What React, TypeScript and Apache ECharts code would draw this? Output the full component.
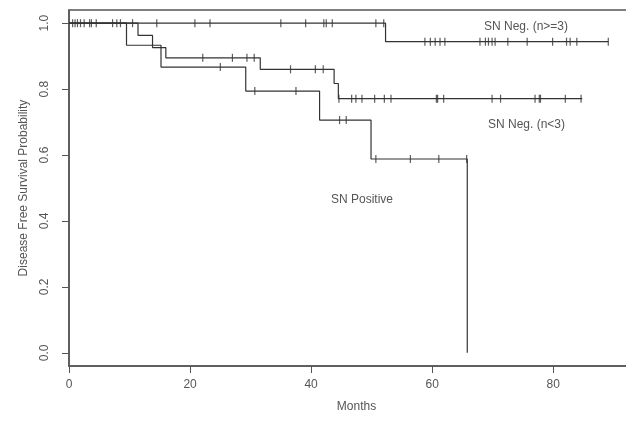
import React, { useEffect, useRef } from "react";
import * as echarts from "echarts";

// Kaplan–Meier step data (months, survival probability)
const negHighTimes = [0, 52.3, 89.1];
const negHighSurv = [1, 0.944, 0.944];
const negHighCensor = [0.6, 1.0, 1.4, 1.9, 2.5, 3.4, 3.7, 4.5, 7.2, 7.9, 8.5, 10.5, 14.5, 20.8, 23.3, 35.0, 39.1, 42.1, 42.5, 43.5, 50.7, 52.0, 58.8, 59.7, 60.5, 61.3, 62.1, 67.9, 68.8, 69.3, 69.9, 70.4, 72.5, 75.7, 79.9, 82.2, 82.8, 83.9, 89.1];

const negLowTimes = [0, 11.4, 13.8, 16.0, 31.6, 43.8, 44.5, 84.8];
const negLowSurv = [1, 0.963, 0.926, 0.895, 0.86, 0.817, 0.771, 0.771];
const negLowCensor = [22.1, 27.0, 29.4, 30.6, 36.6, 40.7, 42.0, 44.6, 46.7, 47.4, 48.4, 50.5, 52.1, 53.2, 60.7, 60.9, 61.9, 69.9, 71.3, 77.0, 77.7, 77.9, 82.0, 84.6];

const posTimes = [0, 9.5, 15.2, 29.2, 41.4, 49.9, 65.8];
const posSurv = [1, 0.933, 0.867, 0.794, 0.706, 0.588, 0];
const posCensor = [25.0, 30.7, 37.5, 44.7, 45.8, 50.7, 56.4, 61.1, 65.7];

const xTicks = [0, 20, 40, 60, 80];
const yTicks = [0, 0.2, 0.4, 0.6, 0.8, 1.0];

const survAt = (times: number[], surv: number[], t: number) => {
  let v = surv[0];
  for (let i = 0; i < times.length; i++) if (times[i] <= t) v = surv[i];
  return v;
};

const lineData = (times: number[], surv: number[]) => times.map((t, i) => [t, surv[i]]);
const censorData = (times: number[], surv: number[], c: number[]) => c.map((t) => [t, survAt(times, surv, t)]);

const INK = "#333";
const AXIS = "#555";
const TEXT = "#555";
const FONT = "Liberation Sans, Arial, sans-serif";

export default function App() {
  const ref = useRef<HTMLDivElement>(null);
  useEffect(() => {
    if (!ref.current) return;
    const chart = echarts.init(ref.current, null, { renderer: "svg" });
    const lineSeries = (name: string, times: number[], surv: number[]) => ({
      name,
      type: "line",
      step: "end",
      showSymbol: false,
      data: lineData(times, surv),
      lineStyle: { color: INK, width: 1.2 },
      z: 3,
    });
    const censorSeries = (name: string, times: number[], surv: number[], c: number[]) => ({
      name: name + " censored",
      type: "scatter",
      symbol: "rect",
      symbolSize: [1.2, 8],
      data: censorData(times, surv, c),
      itemStyle: { color: INK },
      z: 4,
    });
    chart.setOption({
      animation: false,
      textStyle: { fontFamily: FONT },
      grid: {
        left: 69,
        top: 10,
        right: 0,
        bottom: 57,
        show: true,
        borderColor: AXIS,
        borderWidth: 1.5,
        backgroundColor: "transparent",
      },
      xAxis: {
        type: "value",
        min: 0,
        max: 95,
        name: "Months",
        nameLocation: "middle",
        nameGap: 34,
        nameTextStyle: { color: TEXT, fontSize: 12, fontFamily: FONT },
        splitLine: { show: false },
        axisLine: { show: true, onZero: false, lineStyle: { color: AXIS, width: 1.5 } },
        axisTick: { show: true, length: 7, lineStyle: { color: AXIS }, customValues: xTicks },
        axisLabel: { color: TEXT, fontSize: 12, margin: 12, fontFamily: FONT, customValues: xTicks },
      },
      yAxis: {
        type: "value",
        min: -0.04,
        max: 1.04,
        name: "Disease Free Survival Probability",
        nameLocation: "middle",
        nameGap: 40,
        nameTextStyle: { color: TEXT, fontSize: 12, fontFamily: FONT },
        splitLine: { show: false },
        axisLine: { show: true, onZero: false, lineStyle: { color: AXIS, width: 1.5 } },
        axisTick: { show: true, length: 7, lineStyle: { color: AXIS }, customValues: yTicks },
        axisLabel: {
          color: TEXT,
          fontSize: 12,
          margin: 19,
          rotate: 90,
          fontFamily: FONT,
          customValues: yTicks,
          formatter: (v: number) => v.toFixed(1),
        },
      },
      series: [
        lineSeries("SN Neg. (n>=3)", negHighTimes, negHighSurv),
        lineSeries("SN Neg. (n<3)", negLowTimes, negLowSurv),
        lineSeries("SN Positive", posTimes, posSurv),
        censorSeries("SN Neg. (n>=3)", negHighTimes, negHighSurv, negHighCensor),
        censorSeries("SN Neg. (n<3)", negLowTimes, negLowSurv, negLowCensor),
        censorSeries("SN Positive", posTimes, posSurv, posCensor),
      ],
      graphic: [
        { type: "text", left: 484, top: 20, style: { text: "SN Neg. (n>=3)", fill: TEXT, font: `12px ${FONT}` } },
        { type: "text", left: 488, top: 118, style: { text: "SN Neg. (n<3)", fill: TEXT, font: `12px ${FONT}` } },
        { type: "text", left: 331, top: 193, style: { text: "SN Positive", fill: TEXT, font: `12px ${FONT}` } },
      ],
    });
    return () => chart.dispose();
  }, []);
  return (
    <div style={{ position: "fixed", left: 0, top: 0, width: 626, height: 423, overflow: "hidden" }}>
      <div ref={ref} style={{ width: 644, height: 423 }} />
    </div>
  );
}
